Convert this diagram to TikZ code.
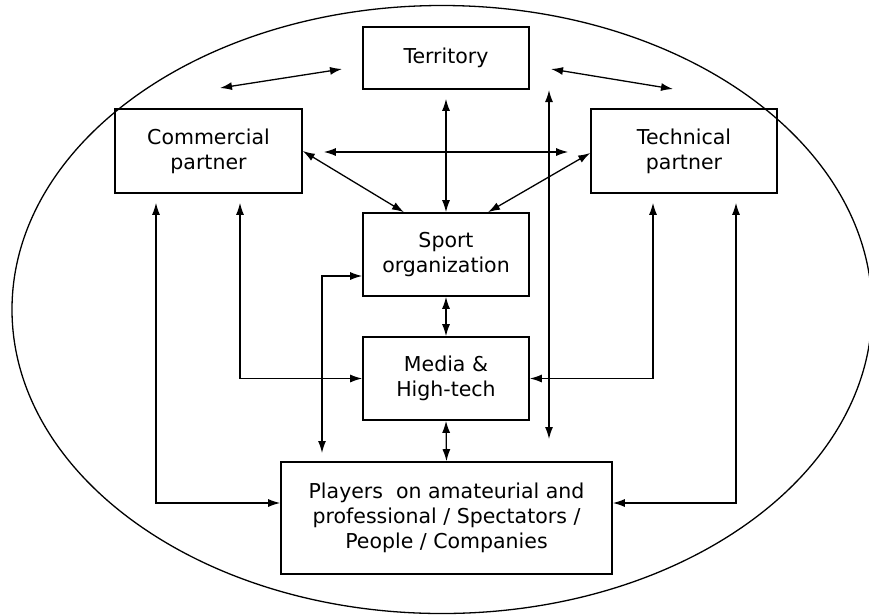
\documentclass[tikz,border=0pt]{standalone}
\usepackage{fontspec}
\setmainfont{DejaVu Sans}
\usetikzlibrary{arrows.meta}
\tikzset{>={Latex[length=12pt,width=8pt]},
every node/.style={font=\fontsize{20.5}{25}\selectfont, align=center},
box/.style={draw, line width=1.6pt, inner sep=0pt},
link/.style={<->, line width=1.3pt},
}

\begin{document}
\begin{tikzpicture}[x=1pt, y=-1pt]
    \useasboundingbox (0,0) rectangle (869,614);
    \draw[line width=1.3pt] (442,309.5) ellipse [x radius=430, y radius=304];

    \node[box, minimum width=166pt, minimum height=62pt] (terr) at (446,58) {Territory};
    \node[box, minimum width=187pt, minimum height=84pt] (comm) at (208.5,151) {Commercial\\partner};
    \node[box, minimum width=186pt, minimum height=84pt] (tech) at (684,151) {Technical\\partner};
    \node[box, minimum width=166pt, minimum height=83pt] (sport) at (446,254.5) {Sport\\organization};
    \node[box, minimum width=166pt, minimum height=83pt] (media) at (446,378.5) {Media \&\\High-tech};
    \node[box, minimum width=331pt, minimum height=112pt] (players) at (446.5,518)
        {Players\ \ on amateurial and\\professional / Spectators /\\People / Companies};

    % free arrows
    \coordinate (tl-a) at (220,88);
    \coordinate (tl-b) at (342,69);
    \coordinate (tr-a) at (551,69);
    \coordinate (tr-b) at (673,89);
    \coordinate (long-a) at (549,90);
    \coordinate (long-b) at (549,439);
    \coordinate (loop-end) at (322,453);
    \draw[link] (tl-a) -- (tl-b);
    \draw[link] (tr-a) -- (tr-b);
    \draw[link] (long-a) -- (long-b);

    \draw[link] ([yshift=-9pt]terr.south) -- (sport.north);
    \draw[link] ([xshift=21pt,yshift=-1pt]comm.east) -- ([xshift=-22pt,yshift=-1pt]tech.west);
    \draw[link] (comm.east) -- ([xshift=-42pt]sport.north);
    \draw[link] ([yshift=-2pt]tech.west) -- ([xshift=42pt]sport.north);
    \draw[link] (sport.south) -- (media.north);
    \draw[link] (media.south) -- (players.north);

    \draw[link] ([xshift=-52.5pt,yshift=-9pt]comm.south) |- ([yshift=15pt]players.west);
    \draw[link] ([xshift=31.5pt,yshift=-9pt]comm.south) |- (media.west);
    \draw[link] ([xshift=-31pt,yshift=-9pt]tech.south) |- (media.east);
    \draw[link] ([xshift=52pt,yshift=-9pt]tech.south) |- ([yshift=15pt]players.east);
    \draw[link] ([yshift=-21.5pt]sport.west) -| (loop-end);
\end{tikzpicture}
\end{document}
